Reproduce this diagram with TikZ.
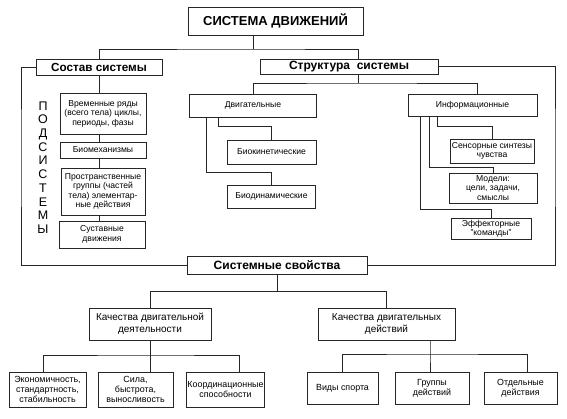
\documentclass[tikz,border=0pt]{standalone}
\usepackage{fontspec}
\setmainfont{Liberation Sans}
\begin{document}
\begin{tikzpicture}[x=1pt,y=-1pt,
  box/.style={draw=black!85, line width=0.9pt, align=center, inner sep=1pt,
    font=\fontsize{8.6}{9.5}\selectfont},
  lowbox/.style={box, font=\fontsize{8.9}{10}\selectfont},
  midbox/.style={box, font=\fontsize{10}{12.5}\selectfont},
  big/.style={box, font=\bfseries\fontsize{12}{13}\selectfont},
  conn/.style={draw=black!85, line width=0.8pt},
]
\fill[white] (0,0) rectangle (567,418);
\useasboundingbox (0,0) rectangle (567,418);

% top level
\node[big, font=\bfseries\fontsize{13}{15}\selectfont, minimum width=175pt, minimum height=28pt] (top) at (275.5,21) {СИСТЕМА ДВИЖЕНИЙ};
\node[big, font=\bfseries\fontsize{11.7}{13}\selectfont, minimum width=126pt, minimum height=16pt] (sostav) at (99,67) {Состав системы};
\node[big, minimum width=178pt, minimum height=15pt] (struct) at (349,66.5) {Структура\ \ системы};

% sostav column
\node[box, minimum width=86pt, minimum height=41pt] (vrem) at (103,113.5) {Временные ряды\\(всего тела) циклы,\\периоды, фазы};
\node[box, minimum width=86pt, minimum height=16pt] (biomech) at (103,150) {Биомеханизмы};
\node[box, minimum width=84pt, minimum height=47pt] (prostr) at (103,191.5) {Пространственные\\группы (частей\\тела) элементар-\\ные действия};
\node[box, minimum width=86pt, minimum height=27pt] (sust) at (102,234.5) {Суставные\\движения};
\node[font=\fontsize{12.5}{13.7}\selectfont, align=center, inner sep=0pt] (pods) at (43,167.5) {П\\О\\Д\\С\\И\\С\\Т\\Е\\М\\Ы};

% structure
\node[box, minimum width=127pt, minimum height=23pt] (dvig) at (253,105.5) {Двигательные};
\node[box, minimum width=89pt, minimum height=24pt] (biokin) at (271.5,152) {Биокинетические};
\node[box, minimum width=88pt, minimum height=23pt] (biodin) at (271.5,196.5) {Биодинамические};
\node[box, minimum width=129pt, minimum height=22pt] (inform) at (472.5,105) {Информационные};
\node[box, minimum width=84pt, minimum height=24pt] (sensor) at (492,151) {Сенсорные синтезы\\чувства};
\node[box, minimum width=88pt, minimum height=30pt] (model) at (493,188) {Модели:\\цели, задачи,\\смыслы};
\node[box, minimum width=80pt, minimum height=21pt] (effect) at (491,228.5) {Эффекторные\\"команды"};

% properties
\node[big, minimum width=180pt, minimum height=18pt] (sv) at (277,265) {Системные свойства};
\node[midbox, minimum width=122pt, minimum height=32pt] (kdd) at (150,324) {Качества двигательной\\деятельности};
\node[midbox, minimum width=137pt, minimum height=32pt] (kda) at (386.5,324) {Качества двигательных\\действий};
\node[lowbox, minimum width=77pt, minimum height=35pt] (ekon) at (47.5,389.5) {Экономичность,\\стандартность,\\стабильность};
\node[lowbox, minimum width=75pt, minimum height=35pt] (sila) at (135.5,389.5) {Сила,\\быстрота,\\выносливость};
\node[lowbox, minimum width=75pt, minimum height=35pt] (koord) at (225.5,389.5) {Координационные\\способности};
\node[lowbox, minimum width=71pt, minimum height=32pt] (vidy) at (342.5,388) {Виды спорта};
\node[lowbox, minimum width=74pt, minimum height=32pt] (gruppy) at (432,388) {Группы\\действий};
\node[lowbox, minimum width=73pt, minimum height=32pt] (otd) at (520.5,388) {Отдельные\\действия};

% junction coordinates
\coordinate (j1) at (253,49);
\coordinate (j2) at (358,83);
\coordinate (oleft) at (21,150);
\coordinate (oright) at (555,150);

% connectors: top
\path[conn] ([xshift=-22.5pt]top.south) -- (j1);
\path[conn] (sostav.north) |- (j1) -| ([xshift=9pt]struct.north);

% outer frame lines
\path[conn] (sostav.west) -| (oleft) |- (sv.west);
\path[conn] (struct.east) -| (oright) |- (sv.east);

% sostav chain
\path[conn] (sostav.south) -- (sostav.south |- vrem.north);
\path[conn] (vrem.south -| sostav.south) -- (biomech.north -| sostav.south);
\path[conn] (biomech.south -| sostav.south) -- (prostr.north -| sostav.south);
\path[conn] (prostr.south -| sostav.south) -- (sust.north -| sostav.south);

% structure branches
\path[conn] ([xshift=9pt]struct.south) -- (j2);
\path[conn] (dvig.north) |- (j2) -| ([xshift=4.5pt]inform.north);

\path[conn] ([xshift=-47pt]dvig.south) |- ([yshift=12pt]biodin.north) -- (biodin.north);
\path[conn] ([xshift=-35pt]dvig.south) |- ([yshift=13pt]biokin.north) -- (biokin.north);

\path[conn] ([xshift=-52.5pt]inform.south) |- ([yshift=8pt]effect.north) -- (effect.north);
\path[conn] ([xshift=-43.5pt]inform.south) |- ([yshift=5pt]model.north) -- (model.north);
\path[conn] ([xshift=-35.5pt]inform.south) |- ([yshift=12pt]sensor.north) -- (sensor.north);

% properties branches
\path[conn] (sv.south) -- ([yshift=-17pt]sv.south);
\path[conn] (kdd.north) |- ([yshift=-17pt]sv.south) -| (kda.north);

\coordinate (h1) at (150,355);
\path[conn] (kdd.south) -- (kdd.south |- sila.north);
\path[conn] ([xshift=-4.5pt]ekon.north) |- (h1) -| ([xshift=13.5pt]koord.north);

\coordinate (h2) at (430,354);
\path[conn] ([xshift=43.5pt]kda.south) -- (h2) -- (h2 |- gruppy.north);
\path[conn] (vidy.north) |- (h2) -| ([xshift=6.5pt]otd.north);
\end{tikzpicture}
\end{document}
